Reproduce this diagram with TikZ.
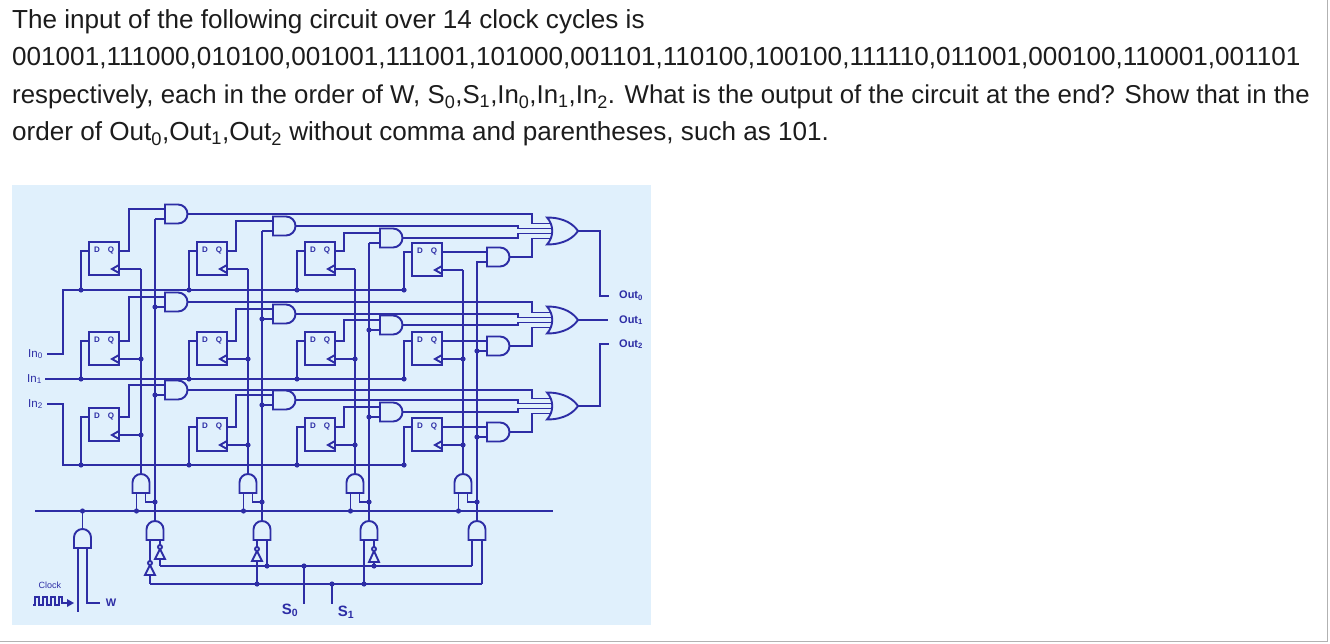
\documentclass[tikz,border=0pt]{standalone}
\usepackage{fontspec}
\setmainfont{Liberation Sans}
\definecolor{wire}{RGB}{45,45,165}
\definecolor{panel}{RGB}{224,240,252}
\definecolor{txt}{RGB}{28,28,28}
\tikzset{w/.style={draw=wire,line width=1.9pt,line join=miter},
 dq/.style={text=wire,font=\fontsize{8}{9}\selectfont\bfseries,inner sep=0pt},
 lbl/.style={text=wire,font=\fontsize{11}{12}\selectfont\bfseries,inner sep=0pt},
 body/.style={text=txt,font=\fontsize{26.1}{30}\selectfont,inner sep=0pt,anchor=base west}}
\newcommand\jdot[1]{\fill[wire] #1 circle (2.6);}
% #1 top, #2 gate centre, #3 bus y, #4 OR input y, #5 dots
\newcommand\cellunit[5]{%
 \draw[w] (\xo,#1) rectangle ++(30,33);
 \node[dq] at (\xo+8,#1+8) {D}; \node[dq] at (\xo+22,#1+8) {Q};
 \draw[w] (\xo+30,#1+23) -- (\xo+23,#1+27) -- (\xo+30,#1+31);
 \draw[w] (\xo,#1+9) -| (\xo-8,#3); \jdot{(\xo-8,#3)}
 \draw[w] (\xo+30,#1+9) -| (\xq,#2-5) -- (\gl,#2-5);
 \draw[w] (\xo+30,#1+27) -- (\xc,#1+27);
 \draw[w] (\xs,#2+5) -- (\gl,#2+5);
 \draw[w,fill=panel] (\gl,#2-9.5) -- ++(13,0) arc(-90:90:9.5) -- (\gl,#2+9.5) -- cycle;
 \draw[w] (\gl+22.5,#2) -| (\jog,#4) -- (552,#4);
 \ifnum#5=1 \jdot{(\xc,#1+27)}\jdot{(\xs,#2+5)}\fi}
\newcommand\andup[3][8.5]{\draw[w,fill=panel] (#2-#1,#3) -- (#2-#1,#3-10.5) arc(180:360:#1) -- (#2+#1,#3) -- cycle;}
\newcommand\invup[3]{\draw[w,fill=panel] (#1-5,#2) -- (#1+5,#2) -- (#1,#3) -- cycle; \draw[w,fill=panel] (#1,#3-2) circle (2);}
\newcommand\orgate[1]{\draw[w,fill=panel] (547,#1-13.5) .. controls (565,#1-13.5) and (574,#1-6) .. (578,#1) .. controls (574,#1+6) and (565,#1+13.5) .. (547,#1+13.5) .. controls (554,#1+6) and (554,#1-6) .. (547,#1-13.5) -- cycle;}
\begin{document}
\begin{tikzpicture}[x=1pt,y=-1pt]
\useasboundingbox (0,0) rectangle (1330,644);
\fill[white] (0,0) rectangle (1330,644);
\draw[gray!60,line width=1pt] (1327,0) -- (1327,641) -- (0,641);
\node[body] (t1) at (12,29) {The input of the following circuit over 14 clock cycles is};
\node[body] (t2) at (12,66) {001001,111000,010100,001001,111001,101000,001101,110100,100100,111110,011001,000100,110001,001101};
\node[body,font=\fontsize{25.8}{30}\selectfont] (t3) at (12,104) {respectively, each in the order of W, S\textsubscript{0},S\textsubscript{1},In\textsubscript{0},In\textsubscript{1},In\textsubscript{2}. What is the output of the circuit at the end? Show that in the};
\node[body] (t4) at (12,141) {order of Out\textsubscript{0},Out\textsubscript{1},Out\textsubscript{2} without comma and parentheses, such as 101.};
\fill[panel] (12,185) rectangle (651,625);
% input buses
\draw[w] (47,354) -| (63,290) -- (403,290);
\draw[w] (45,379) -- (403,379);
\draw[w] (47,404) -| (63,465) -- (403,465);
\node[lbl,font=\fontsize{11.5}{12}\selectfont,anchor=east] (in0) at (43,354) {In\textsubscript{0}};
\node[lbl,font=\fontsize{11.5}{12}\selectfont,anchor=east] (in1) at (42,379) {In\textsubscript{1}};
\node[lbl,font=\fontsize{11.5}{12}\selectfont,anchor=east] (in2) at (43,404) {In\textsubscript{2}};
% columns
\def\xo{89}\def\gl{165}\def\xq{129}\def\xc{141}\def\xs{155}\def\jog{532}
\draw[w] (\xc,269) -- (\xc,474); \draw[w] (\xs,219) -- (\xs,521);
\cellunit{242}{214}{290}{223.5}{0}\cellunit{332}{302}{379}{312.5}{1}\cellunit{408}{390}{465}{398.5}{1}
\def\xo{197}\def\gl{273}\def\xq{236}\def\xc{248}\def\xs{262}\def\jog{518}
\draw[w] (\xc,269) -- (\xc,474); \draw[w] (\xs,231) -- (\xs,521);
\cellunit{242}{226}{290}{228.5}{0}\cellunit{332}{314}{379}{317.5}{1}\cellunit{418}{400}{465}{403.5}{1}
\def\xo{305}\def\gl{380}\def\xq{344}\def\xc{355}\def\xs{369}\def\jog{518}
\draw[w] (\xc,269) -- (\xc,474); \draw[w] (\xs,243) -- (\xs,521);
\cellunit{242}{238}{290}{233.5}{0}\cellunit{332}{325}{379}{322.5}{1}\cellunit{418}{412}{465}{408.5}{1}
\def\xo{412}\def\gl{487}\def\xq{452}\def\xc{463}\def\xs{477}\def\jog{532}
\draw[w] (\xc,270) -- (\xc,474); \draw[w] (\xs,261) -- (\xs,521);
\cellunit{243}{257}{290}{238.5}{0}\cellunit{332}{346}{379}{327.5}{1}\cellunit{418}{432}{465}{413.5}{1}
% OR gates and outputs
\orgate{231}\orgate{320}\orgate{406}
\draw[w] (578,231) -| (600,296) -- (609,296);
\draw[w] (578,320) -- (608,320);
\draw[w] (578,406) -| (600,344) -- (609,344);
\node[lbl,anchor=west] (o0) at (619,296) {Out\textsubscript{0}};
\node[lbl,anchor=west] (o1) at (619,320) {Out\textsubscript{1}};
\node[lbl,anchor=west] (o2) at (619,344) {Out\textsubscript{2}};
% clock bus and clock gates
\draw[w] (35,511) -- (553,511);
\foreach \cx/\sx in {141/155,248/262,355/369,463/477}{
 \draw[w] (\cx-4.5,493) -- (\cx-4.5,511); \jdot{(\cx-4.5,511)}
 \draw[w] (\cx+4.5,493) |- (\sx,502); \jdot{(\sx,502)}
 \andup{\cx}{493}
 \draw[w] (\sx-5,540) -- (\sx-5,545); \draw[w] (\sx+5,540) -- (\sx+5,545);
 \andup{\sx}{540}}
% select decoder
\draw[w] (160,566) -- (472,566); \draw[w] (150,584) -- (482,584);
\draw[w] (150,545) -- (150,584); \invup{150}{575}{565}
\draw[w] (160,545) -- (160,566); \invup{160}{559}{549}
\draw[w] (257,545) -- (257,584); \invup{257}{561}{551} \jdot{(257,584)}
\draw[w] (267,545) -- (267,566); \jdot{(267,566)}
\draw[w] (364,545) -- (364,584); \jdot{(364,584)}
\draw[w] (374,545) -- (374,566); \invup{374}{562}{551} \jdot{(374,566)}
\draw[w] (472,545) -- (472,566); \draw[w] (482,545) -- (482,584);
\draw[w] (304,566) -- (304,604); \jdot{(304,566)}
\draw[w] (332,584) -- (332,604); \jdot{(332,584)}
\node[lbl,font=\fontsize{15}{16}\selectfont\bfseries] (s0) at (290,610) {S\textsubscript{0}};
\node[lbl,font=\fontsize{15}{16}\selectfont\bfseries] (s1) at (346,612) {S\textsubscript{1}};
% main clock gate
\draw[w] (78,548) -- (78,612);
\draw[w] (87,548) |- (100,603);
\andup{82.5}{548}
\draw[w] (82.5,529) -- (82.5,511); \jdot{(82.5,511)}
\node[lbl,font=\fontsize{11}{12}\selectfont\bfseries] (wl) at (111,603) {W};
\node[lbl,font=\fontsize{9}{10}\selectfont] (clk) at (50,585) {Clock};
\draw[wire,line width=1.1pt] (33,605) -- (35,605) -- (35,597) -- (39,597) -- (39,605) -- (43,605) -- (43,597) -- (47,597) -- (47,605) -- (51,605) -- (51,597) -- (55,597) -- (55,605) -- (59,605) -- (59,597) -- (62,597) -- (62,603) -- (67,603);
\fill[wire] (67,599) -- (74,603) -- (67,607) -- cycle;
\end{tikzpicture}
\end{document}
